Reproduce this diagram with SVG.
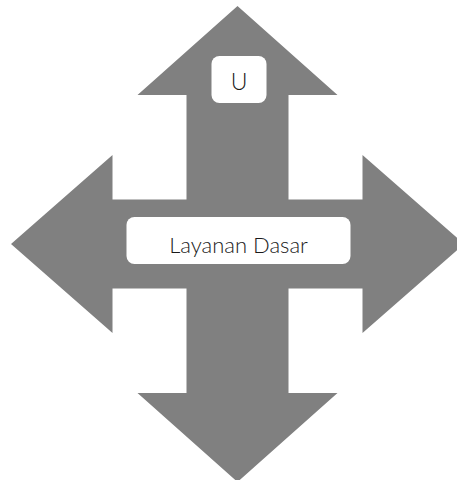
<svg xmlns="http://www.w3.org/2000/svg" width="457" height="480" viewBox="0 0 457 480">
<style>
.arrow{fill:#808080;stroke:none}
.box{fill:#ffffff;stroke:none}
.lbl{font-family:Lato,"Noto Sans","Liberation Sans",sans-serif;font-weight:300;fill:#1a1a1a;text-anchor:middle}
</style>
<rect width="457" height="480" fill="#ffffff"/>
<g id="connectors">
<polygon class="arrow" points="237.5,6 337.5,95 288.5,95 288.5,199.5 362.5,199.5 362.5,155 464,244 362.5,333 362.5,288.5 288.5,288.5 288.5,393 337.5,393 237.5,482 137.5,393 186.5,393 186.5,288.5 112.5,288.5 112.5,333 11,244 112.5,155 112.5,199.5 186.5,199.5 186.5,95 137.5,95"/>
</g>
<g id="node-u">
<rect class="box" x="211.5" y="56" width="55" height="47" rx="8"/>
<text class="lbl" x="239" y="89.5" font-size="23">U</text>
</g>
<g id="node-layanan-dasar">
<rect class="box" x="126.5" y="217" width="224" height="47" rx="8"/>
<text class="lbl" x="238.5" y="253" font-size="22">Layanan Dasar</text>
</g>
</svg>
